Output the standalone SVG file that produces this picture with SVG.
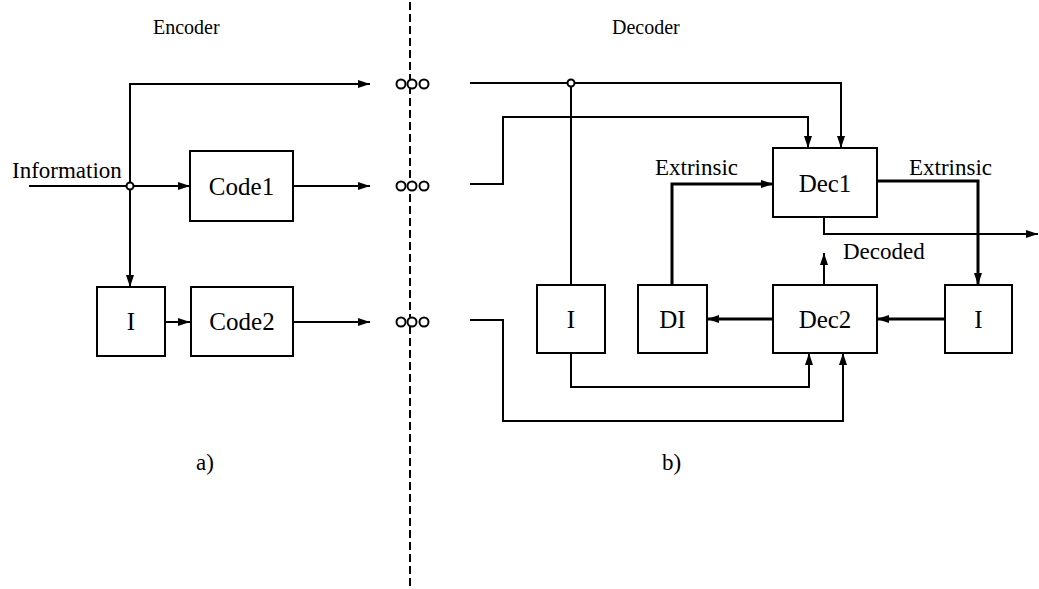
<svg xmlns="http://www.w3.org/2000/svg" width="1039" height="589" viewBox="0 0 1039 589">
<style>
.ln{fill:none;stroke:#000;stroke-width:2}
.tk{fill:none;stroke:#000;stroke-width:3}
.box{fill:#fff;stroke:#000;stroke-width:2}
.t{font-family:"Liberation Serif","Times New Roman",serif;font-size:23px;fill:#000}
.h{font-family:"Liberation Serif","Times New Roman",serif;font-size:20px;fill:#000}
.bt{font-family:"Liberation Serif","Times New Roman",serif;font-size:25px;fill:#000;text-anchor:middle}
.o{fill:#fff;stroke:#000;stroke-width:2}
</style>
<defs>
<marker id="ah" viewBox="0 0 12 8" refX="12" refY="4" markerWidth="12" markerHeight="8" markerUnits="userSpaceOnUse" orient="auto">
<path d="M0,0 L12,4 L0,8 Z" fill="#000"/>
</marker>
</defs>
<rect width="1039" height="589" fill="#fff"/>
<line x1="410" y1="2" x2="410" y2="589" stroke="#000" stroke-width="2" stroke-dasharray="8 4"/>
<text class="h" x="153" y="34">Encoder</text>
<text class="h" x="612" y="34">Decoder</text>
<text class="t" x="196" y="470">a)</text>
<text class="t" x="662" y="470">b)</text>
<g id="connectors">
<path class="ln" d="M29,186 H130"/>
<path class="ln" d="M130,287 V84 H370" marker-end="url(#ah)"/>
<path class="ln" d="M130,186 V287" marker-end="url(#ah)"/>
<path class="ln" d="M130,186 H190" marker-end="url(#ah)"/>
<path class="ln" d="M293,186 H370" marker-end="url(#ah)"/>
<path class="ln" d="M165,322 H190" marker-end="url(#ah)"/>
<path class="ln" d="M293,322 H370" marker-end="url(#ah)"/>
<path class="ln" d="M470,83 H841 V148" marker-end="url(#ah)"/>
<path class="ln" d="M571,83 V285"/>
<path class="ln" d="M470,184 H503 V117 H808 V148" marker-end="url(#ah)"/>
<path class="ln" d="M470,320 H503 V421 H843 V353" marker-end="url(#ah)"/>
<path class="ln" d="M571,353 V387 H809 V353" marker-end="url(#ah)"/>
<path class="tk" d="M773,319 H707" marker-end="url(#ah)"/>
<path class="tk" d="M945,319 H877" marker-end="url(#ah)"/>
<path class="tk" d="M672,285 V184 H773" marker-end="url(#ah)"/>
<path class="tk" d="M877,181 H978 V285" marker-end="url(#ah)"/>
<path class="ln" d="M824,217 V234 H1038" marker-end="url(#ah)"/>
<path class="ln" d="M824,285 V253" marker-end="url(#ah)"/>
<circle class="o" cx="130" cy="186" r="3.5"/>
<circle class="o" cx="571" cy="83" r="3.5"/>
<text class="t" x="12" y="178">Information</text>
<text class="t" x="655" y="175">Extrinsic</text>
<text class="t" x="909" y="175">Extrinsic</text>
<text class="t" x="843" y="259">Decoded</text>
</g>
<g id="ooo1"><circle class="o" cx="401" cy="84" r="4.5"/><circle class="o" cx="412" cy="84" r="4.5"/><circle class="o" cx="424" cy="84" r="4.5"/></g>
<g id="ooo2"><circle class="o" cx="401" cy="186" r="4.5"/><circle class="o" cx="412" cy="186" r="4.5"/><circle class="o" cx="424" cy="186" r="4.5"/></g>
<g id="ooo3"><circle class="o" cx="401" cy="322" r="4.5"/><circle class="o" cx="412" cy="322" r="4.5"/><circle class="o" cx="424" cy="322" r="4.5"/></g>
<g id="code1"><rect class="box" x="190" y="151" width="103" height="70"/><text class="bt" x="241.5" y="195">Code1</text></g>
<g id="enc-i"><rect class="box" x="97" y="287" width="68" height="69"/><text class="bt" x="131" y="330">I</text></g>
<g id="code2"><rect class="box" x="191" y="287" width="102" height="69"/><text class="bt" x="242" y="330">Code2</text></g>
<g id="dec1"><rect class="box" x="773" y="148" width="104" height="69"/><text class="bt" x="825" y="192">Dec1</text></g>
<g id="dec-i1"><rect class="box" x="537" y="285" width="68" height="68"/><text class="bt" x="571" y="328">I</text></g>
<g id="di"><rect class="box" x="638" y="285" width="69" height="68"/><text class="bt" x="672.5" y="328">DI</text></g>
<g id="dec2"><rect class="box" x="773" y="285" width="104" height="68"/><text class="bt" x="825" y="328">Dec2</text></g>
<g id="dec-i2"><rect class="box" x="945" y="285" width="67" height="68"/><text class="bt" x="978.5" y="328">I</text></g>
</svg>
